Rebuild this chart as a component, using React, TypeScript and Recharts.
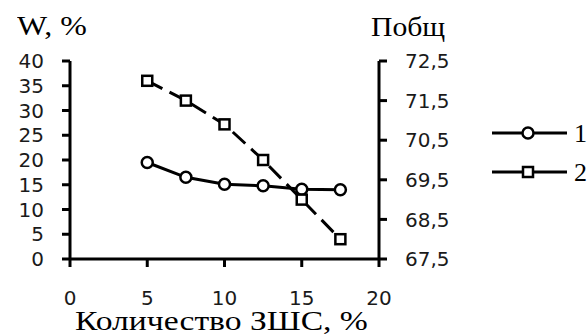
import React from "react";
import { LineChart, Line, XAxis, YAxis } from "recharts";

const amounts = [5, 7.5, 10, 12.5, 15, 17.5];
const moisture = [19.5, 16.5, 15.1, 14.8, 14.1, 14.0];
const porosity = [72.0, 71.5, 70.9, 70.0, 69.0, 68.0];

const xTicks = [0, 5, 10, 15, 20];
const leftTicks = [0, 5, 10, 15, 20, 25, 30, 35, 40];
const rightTicks = [67.5, 68.5, 69.5, 70.5, 71.5, 72.5];
const seriesNames = ["1", "2"];

const data = amounts.map((x, i) => ({ x, w: moisture[i], p: porosity[i] }));

const tickFont = { fontSize: 20, fontFamily: "DejaVu Sans", fill: "#1a1a1a" };
const serif = "'Liberation Serif', 'DejaVu Serif', serif";

const CircleDot = (props: any) => {
  const { cx, cy } = props;
  if (cx == null || cy == null) return null;
  return <circle cx={cx} cy={cy} r={5.5} fill="#fff" stroke="#000" strokeWidth={2.5} />;
};

const SquareDot = (props: any) => {
  const { cx, cy } = props;
  if (cx == null || cy == null) return null;
  return (
    <rect x={cx - 5} y={cy - 5} width={10} height={10} fill="#fff" stroke="#000" strokeWidth={2.5} />
  );
};

const axisStyle = { stroke: "#000", strokeWidth: 3 };

const titleStyle = (left: number, top: number, sx: number): React.CSSProperties => ({
  position: "absolute",
  left,
  top,
  fontFamily: serif,
  fontSize: 28,
  lineHeight: "24px",
  whiteSpace: "nowrap",
  transform: `scaleX(${sx})`,
  transformOrigin: "left top",
});

export default function App() {
  return (
    <div style={{ position: "absolute", left: 0, top: 0, width: 587, height: 336, background: "#fff", overflow: "hidden" }}>
      <LineChart
        width={587}
        height={336}
        data={data}
        margin={{ top: 61, right: 108, bottom: 37, left: 8 }}
      >
        <XAxis
          dataKey="x"
          type="number"
          domain={[0, 20]}
          ticks={xTicks}
          interval={0}
          height={40}
          tickSize={8}
          tickMargin={24}
          tick={tickFont}
          axisLine={axisStyle}
          tickLine={axisStyle}
        />
        <YAxis
          yAxisId="left"
          orientation="left"
          domain={[0, 40]}
          ticks={leftTicks}
          interval={0}
          width={62}
          tickSize={8}
          tickMargin={18}
          tick={tickFont}
          axisLine={axisStyle}
          tickLine={axisStyle}
        />
        <YAxis
          yAxisId="right"
          orientation="right"
          domain={[67.5, 72.5]}
          ticks={rightTicks}
          interval={0}
          width={100}
          tickSize={8}
          tickMargin={18}
          tick={tickFont}
          tickFormatter={(v: number) => v.toFixed(1).replace(".", ",")}
          axisLine={axisStyle}
          tickLine={axisStyle}
        />
        <Line
          yAxisId="left"
          dataKey="w"
          name={seriesNames[0]}
          stroke="#000"
          strokeWidth={3}
          dot={<CircleDot />}
          activeDot={false}
          isAnimationActive={false}
        />
        <Line
          yAxisId="right"
          dataKey="p"
          name={seriesNames[1]}
          stroke="#000"
          strokeWidth={3}
          strokeDasharray="17 8"
          dot={<SquareDot />}
          activeDot={false}
          isAnimationActive={false}
        />
      </LineChart>

      {/* legend */}
      <svg width={97} height={90} style={{ position: "absolute", left: 490, top: 117 }}>
        {seriesNames.map((name, i) => {
          const y = 16 + 39 * i;
          return (
            <g key={`leg-${i}`}>
              <line x1={2} x2={77} y1={y} y2={y} stroke="#000" strokeWidth={3} />
              {i === 0 ? <CircleDot cx={38} cy={y} /> : <SquareDot cx={38} cy={y} />}
              <text x={84} y={y + 9} fontSize={26} fontFamily={serif} fill="#000">
                {name}
              </text>
            </g>
          );
        })}
      </svg>

      <div style={titleStyle(17, 14, 1.14)}>W, %</div>
      <div style={titleStyle(371, 15, 1.06)}>Побщ</div>
      <div style={titleStyle(75, 309, 1.2)}>Количество ЗШС, %</div>
    </div>
  );
}
